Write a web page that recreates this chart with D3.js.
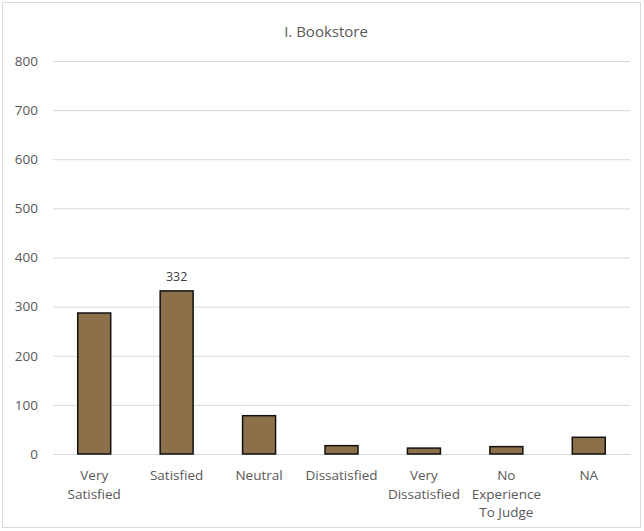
<!DOCTYPE html>
<html><head><meta charset="utf-8">
<script src="https://cdn.jsdelivr.net/npm/d3@7"></script>
<style>body{margin:0;background:#fff;}text{font-family:"Open Sans",sans-serif;}</style>
</head><body><svg id="c" width="644" height="531"></svg>
<script>
const categories = [["Very","Satisfied"],["Satisfied"],["Neutral"],["Dissatisfied"],["Very","Dissatisfied"],["No","Experience","To Judge"],["NA"]];
const values = [287, 332, 78, 17, 12, 15, 34];
const yTicks = [0,100,200,300,400,500,600,700,800];
const title = "I. Bookstore";

const svg = d3.select("#c");
svg.append("rect").attr("x",2.5).attr("y",2.5).attr("width",638).attr("height",525)
  .attr("fill","#fff").attr("stroke","#d9d9d9");
const m = {l:53, r:630, t:61, b:454};
const x = d3.scaleBand().domain(d3.range(categories.length)).range([m.l,m.r]).paddingInner(0.6).paddingOuter(0.3);
const y = d3.scaleLinear().domain([0,800]).range([m.b,m.t]);

svg.append("text").attr("x",326).attr("y",37).attr("text-anchor","middle")
  .attr("font-size",15).attr("fill","#595959").text(title);

const ya = svg.append("g").attr("transform",`translate(${m.l},0)`)
  .call(d3.axisLeft(y).tickValues(yTicks).tickSize(-(m.r-m.l)).tickPadding(15));
ya.select(".domain").remove();
ya.selectAll("line").attr("stroke","#d9d9d9");
ya.selectAll("text").attr("font-size",13.5).attr("fill","#595959").attr("font-family","Open Sans, sans-serif");

svg.selectAll("rect.bar").data(values).join("rect").attr("class","bar")
  .attr("x",(d,i)=>x(i)).attr("width",x.bandwidth())
  .attr("y",d=>y(d)).attr("height",d=>y(0)-y(d))
  .attr("fill","#8b7049").attr("stroke","#111").attr("stroke-width",1.5);

svg.append("text").attr("x",x(1)+x.bandwidth()/2).attr("y",y(values[1])-10)
  .attr("text-anchor","middle").attr("font-size",12.5).attr("fill","#404040").text(values[1]);

const xa = svg.append("g");
categories.forEach((lines,i)=>{
  const t = xa.append("text").attr("x",x(i)+x.bandwidth()/2).attr("y",480)
    .attr("text-anchor","middle").attr("font-size",13.5).attr("fill","#595959");
  lines.forEach((l,j)=>t.append("tspan").attr("x",x(i)+x.bandwidth()/2).attr("dy",j?18.5:0).text(l));
});
</script></body></html>
